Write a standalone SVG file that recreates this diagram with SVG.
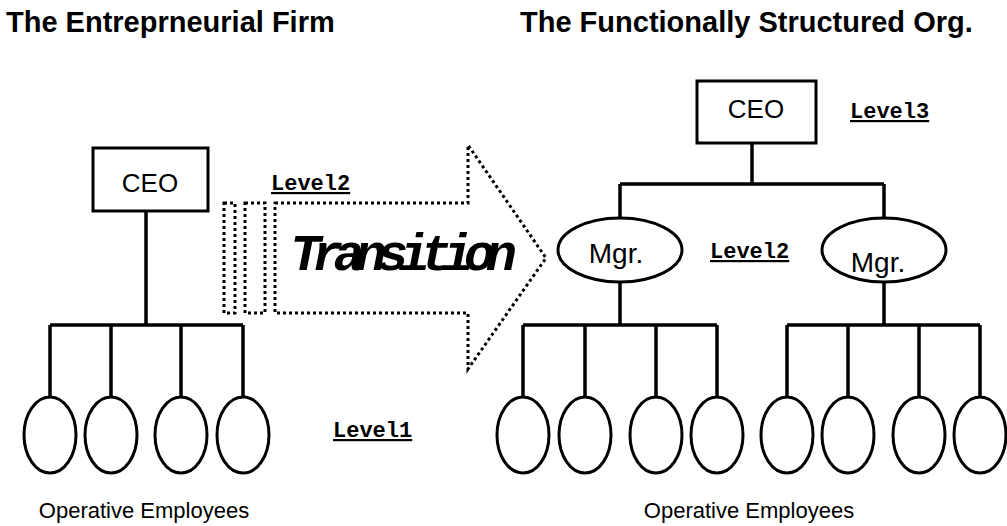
<svg xmlns="http://www.w3.org/2000/svg" width="1007" height="526" viewBox="0 0 1007 526">
<style>
.title{font-family:"Liberation Sans",Arial,sans-serif;font-weight:bold;font-size:29px;fill:#000}
.node{fill:#fff;stroke:#000;stroke-width:3}
.lbl{font-family:"Liberation Sans",Arial,sans-serif;font-size:26px;fill:#000;text-anchor:middle}
.mgr{font-size:28px}
.emp{font-family:"Liberation Sans",Arial,sans-serif;font-size:22px;fill:#000;text-anchor:middle}
.lvl{font-family:"Liberation Mono","Courier New",monospace;font-weight:bold;font-size:22px;fill:#000;text-decoration:underline}
.conn{stroke:#000;stroke-width:3.5;fill:none}
.dot{fill:none;stroke:#000;stroke-width:3;stroke-dasharray:3 3}
.trans{font-family:"Liberation Mono","Courier New",monospace;font-weight:bold;font-style:italic;font-size:52px;fill:#000}
</style>
<rect width="1007" height="526" fill="#fff"/>
<text class="title" x="6" y="32">The Entreprneurial Firm</text>
<text class="title" x="520" y="32">The Functionally Structured Org.</text>

<g id="connectors">
<path class="conn" d="M146,211V325M50,325H243M50,325V397M111,325V397M181,325V397M243,325V397"/>
<path class="conn" d="M752,143V184M620,184H884M620,184V218M884,184V218"/>
<path class="conn" d="M620,282V325M523,325H717M523,325V397M585,325V397M656,325V397M717,325V397"/>
<path class="conn" d="M884,282V325M787,325H980M787,325V397M848,325V397M919,325V397M980,325V397"/>
</g>

<g id="transition-arrow">
<rect class="dot" x="224" y="203" width="11" height="110"/>
<rect class="dot" x="245" y="203" width="20" height="110"/>
<path class="dot" d="M275,203H468V145L546,258L468,369V313H275Z"/>
<text class="trans" x="290" y="270" textLength="227" lengthAdjust="spacing">Transition</text>
</g>

<g id="ceo-left"><rect class="node" x="93" y="148" width="115" height="63"/><text class="lbl" x="150" y="192">CEO</text></g>
<g id="emp-l1"><ellipse class="node" cx="50" cy="435" rx="26" ry="38"/></g>
<g id="emp-l2"><ellipse class="node" cx="111" cy="435" rx="26" ry="38"/></g>
<g id="emp-l3"><ellipse class="node" cx="181" cy="435" rx="26" ry="38"/></g>
<g id="emp-l4"><ellipse class="node" cx="243" cy="435" rx="26" ry="38"/></g>

<g id="ceo-right"><rect class="node" x="697" y="81" width="119" height="62"/><text class="lbl" x="756" y="118">CEO</text></g>
<g id="mgr-left"><ellipse class="node" cx="620" cy="250" rx="62" ry="32"/><text class="lbl mgr" x="616" y="263">Mgr.</text></g>
<g id="mgr-right"><ellipse class="node" cx="884" cy="250" rx="62" ry="32"/><text class="lbl mgr" x="878" y="272">Mgr.</text></g>
<g id="emp-r1"><ellipse class="node" cx="523" cy="435" rx="26" ry="38"/></g>
<g id="emp-r2"><ellipse class="node" cx="585" cy="435" rx="26" ry="38"/></g>
<g id="emp-r3"><ellipse class="node" cx="656" cy="435" rx="26" ry="38"/></g>
<g id="emp-r4"><ellipse class="node" cx="717" cy="435" rx="26" ry="38"/></g>
<g id="emp-r5"><ellipse class="node" cx="787" cy="435" rx="26" ry="38"/></g>
<g id="emp-r6"><ellipse class="node" cx="848" cy="435" rx="26" ry="38"/></g>
<g id="emp-r7"><ellipse class="node" cx="919" cy="435" rx="26" ry="38"/></g>
<g id="emp-r8"><ellipse class="node" cx="980" cy="435" rx="26" ry="38"/></g>

<text class="lvl" x="271" y="190">Level2</text>
<text class="lvl" x="850" y="118">Level3</text>
<text class="lvl" x="710" y="258">Level2</text>
<text class="lvl" x="333" y="437">Level1</text>
<text class="emp" x="144" y="518">Operative Employees</text>
<text class="emp" x="749" y="518">Operative Employees</text>
</svg>
